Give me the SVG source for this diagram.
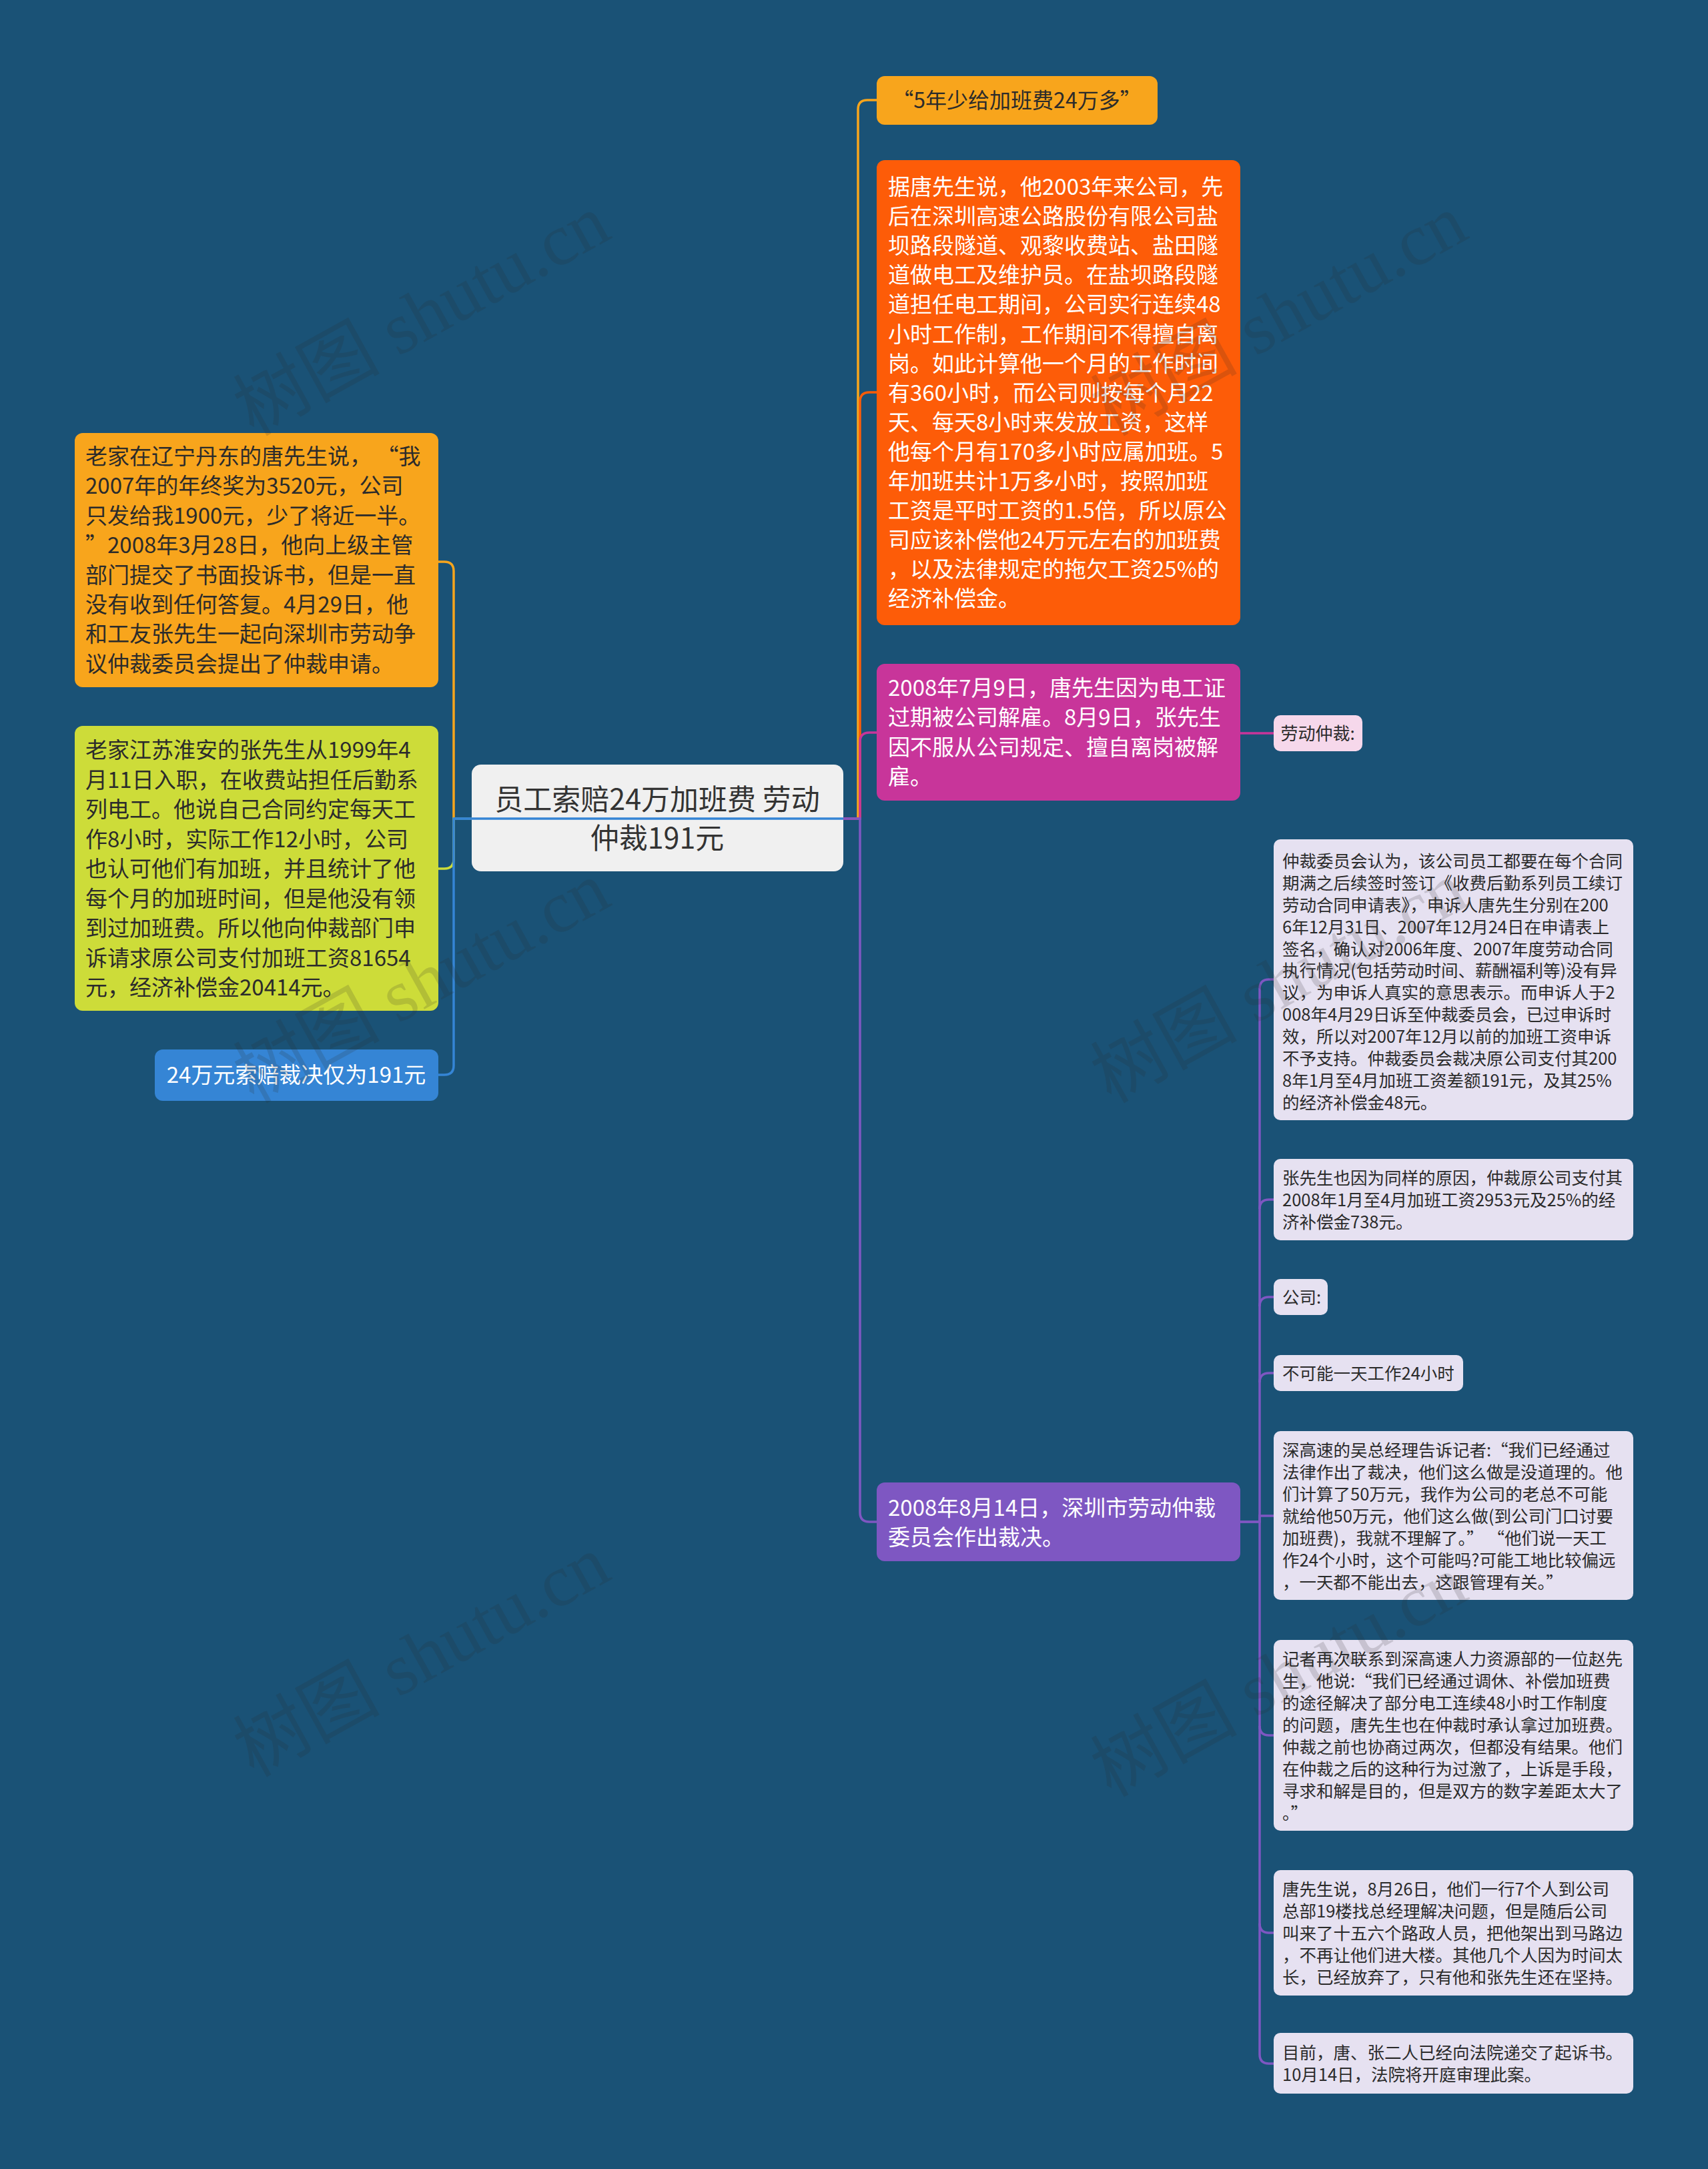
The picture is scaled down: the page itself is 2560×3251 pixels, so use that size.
<svg xmlns="http://www.w3.org/2000/svg" width="2560" height="3251" viewBox="0 0 2560 3251">
<style>
text{font-family:"Noto Sans CJK SC","Noto Sans",sans-serif}
.dk{fill:#2b2b2b}
.wt{fill:#ffffff}
.c{stroke-width:3.5;fill:none}
.lv{fill:#e6e1f1}
.s26{font-size:25.5px}
.s33{font-size:33px}
.s34{font-size:33px}
.wm{font-family:"Liberation Serif","Noto Sans CJK SC",serif;font-size:110px;fill:#2a2a2a;opacity:0.16}
</style>
<rect x="0" y="0" width="2560" height="3251" fill="#1a5276"/>

<g id="center">
<rect x="707" y="1146" width="557" height="160" rx="14" fill="#f0f0f0"/>
<text x="985" y="1214" text-anchor="middle" font-size="43" fill="#333">员工索赔24万加班费 劳动</text>
<text x="985" y="1272" text-anchor="middle" font-size="43" fill="#333">仲裁191元</text>
</g>

<g id="left-tang">
<rect x="112" y="649" width="545" height="381" rx="12" fill="#f8a51c"/>
<text class="dk s33" x="128">
<tspan x="128" y="696">老家在辽宁丹东的唐先生说， “我</tspan>
<tspan x="128" y="740">2007年的年终奖为3520元，公司</tspan>
<tspan x="128" y="785">只发给我1900元，少了将近一半。</tspan>
<tspan x="128" y="829">”2008年3月28日，他向上级主管</tspan>
<tspan x="128" y="874">部门提交了书面投诉书，但是一直</tspan>
<tspan x="128" y="918">没有收到任何答复。4月29日，他</tspan>
<tspan x="128" y="962">和工友张先生一起向深圳市劳动争</tspan>
<tspan x="128" y="1007">议仲裁委员会提出了仲裁申请。</tspan>
</text>
</g>

<g id="left-zhang">
<rect x="112" y="1088" width="545" height="427" rx="12" fill="#cddc39"/>
<text class="dk s33">
<tspan x="128" y="1136">老家江苏淮安的张先生从1999年4</tspan>
<tspan x="128" y="1181">月11日入职，在收费站担任后勤系</tspan>
<tspan x="128" y="1225">列电工。他说自己合同约定每天工</tspan>
<tspan x="128" y="1270">作8小时，实际工作12小时，公司</tspan>
<tspan x="128" y="1314">也认可他们有加班，并且统计了他</tspan>
<tspan x="128" y="1359">每个月的加班时间，但是他没有领</tspan>
<tspan x="128" y="1403">到过加班费。所以他向仲裁部门申</tspan>
<tspan x="128" y="1448">诉请求原公司支付加班工资81654</tspan>
<tspan x="128" y="1492">元，经济补偿金20414元。</tspan>
</text>
</g>

<g id="left-verdict">
<rect x="232" y="1573" width="425" height="77" rx="12" fill="#3585d5"/>
<text class="wt s33" x="444" y="1623" text-anchor="middle">24万元索赔裁决仅为191元</text>
</g>

<g id="r-title">
<rect x="1314" y="114" width="421" height="73" rx="12" fill="#f8a51c"/>
<text class="dk" x="1524" y="162" font-size="32" text-anchor="middle">“5年少给加班费24万多”</text>
</g>

<g id="r-story">
<rect x="1314" y="240" width="545" height="697" rx="12" fill="#fd5c08"/>
<text class="wt s33">
<tspan x="1331" y="292">据唐先生说，他2003年来公司，先</tspan>
<tspan x="1331" y="336">后在深圳高速公路股份有限公司盐</tspan>
<tspan x="1331" y="380">坝路段隧道、观黎收费站、盐田隧</tspan>
<tspan x="1331" y="424">道做电工及维护员。在盐坝路段隧</tspan>
<tspan x="1331" y="468">道担任电工期间，公司实行连续48</tspan>
<tspan x="1331" y="513">小时工作制，工作期间不得擅自离</tspan>
<tspan x="1331" y="557">岗。如此计算他一个月的工作时间</tspan>
<tspan x="1331" y="601">有360小时，而公司则按每个月22</tspan>
<tspan x="1331" y="645">天、每天8小时来发放工资，这样</tspan>
<tspan x="1331" y="689">他每个月有170多小时应属加班。5</tspan>
<tspan x="1331" y="733">年加班共计1万多小时，按照加班</tspan>
<tspan x="1331" y="777">工资是平时工资的1.5倍，所以原公</tspan>
<tspan x="1331" y="821">司应该补偿他24万元左右的加班费</tspan>
<tspan x="1331" y="865">，以及法律规定的拖欠工资25%的</tspan>
<tspan x="1331" y="909">经济补偿金。</tspan>
</text>
</g>

<g id="r-fired">
<rect x="1314" y="995" width="545" height="205" rx="12" fill="#c8359a"/>
<text class="wt s34">
<tspan x="1331" y="1043">2008年7月9日，唐先生因为电工证</tspan>
<tspan x="1331" y="1087">过期被公司解雇。8月9日，张先生</tspan>
<tspan x="1331" y="1132">因不服从公司规定、擅自离岗被解</tspan>
<tspan x="1331" y="1176">雇。</tspan>
</text>
</g>

<g id="r-arbitration">
<rect x="1909" y="1072" width="133" height="54" rx="10" fill="#f6d8eb"/>
<text class="dk" x="1975" y="1109" font-size="26" text-anchor="middle">劳动仲裁:</text>
</g>

<g id="r-ruling">
<rect x="1314" y="2222" width="545" height="118" rx="12" fill="#7e57c2"/>
<text class="wt s34">
<tspan x="1331" y="2272">2008年8月14日，深圳市劳动仲裁</tspan>
<tspan x="1331" y="2316">委员会作出裁决。</tspan>
</text>
</g>

<g id="c-committee">
<rect class="lv" x="1909" y="1258" width="539" height="421" rx="10"/>
<text class="dk s26">
<tspan x="1922" y="1300">仲裁委员会认为，该公司员工都要在每个合同</tspan>
<tspan x="1922" y="1333">期满之后续签时签订《收费后勤系列员工续订</tspan>
<tspan x="1922" y="1366">劳动合同申请表》，申诉人唐先生分别在200</tspan>
<tspan x="1922" y="1399">6年12月31日、2007年12月24日在申请表上</tspan>
<tspan x="1922" y="1432">签名，确认对2006年度、2007年度劳动合同</tspan>
<tspan x="1922" y="1464">执行情况(包括劳动时间、薪酬福利等)没有异</tspan>
<tspan x="1922" y="1497">议，为申诉人真实的意思表示。而申诉人于2</tspan>
<tspan x="1922" y="1530">008年4月29日诉至仲裁委员会，已过申诉时</tspan>
<tspan x="1922" y="1563">效，所以对2007年12月以前的加班工资申诉</tspan>
<tspan x="1922" y="1596">不予支持。仲裁委员会裁决原公司支付其200</tspan>
<tspan x="1922" y="1629">8年1月至4月加班工资差额191元，及其25%</tspan>
<tspan x="1922" y="1662">的经济补偿金48元。</tspan>
</text>
</g>

<g id="c-zhang">
<rect class="lv" x="1909" y="1737" width="539" height="122" rx="10"/>
<text class="dk s26">
<tspan x="1922" y="1775">张先生也因为同样的原因，仲裁原公司支付其</tspan>
<tspan x="1922" y="1808">2008年1月至4月加班工资2953元及25%的经</tspan>
<tspan x="1922" y="1841">济补偿金738元。</tspan>
</text>
</g>

<g id="c-company">
<rect class="lv" x="1909" y="1917" width="81" height="54" rx="10"/>
<text class="dk s26" x="1922" y="1954">公司:</text>
</g>

<g id="c-24h">
<rect class="lv" x="1909" y="2031" width="284" height="54" rx="10"/>
<text class="dk s26" x="1922" y="2068">不可能一天工作24小时</text>
</g>

<g id="c-wu">
<rect class="lv" x="1909" y="2145" width="539" height="253" rx="10"/>
<text class="dk s26">
<tspan x="1922" y="2183">深高速的吴总经理告诉记者:“我们已经通过</tspan>
<tspan x="1922" y="2216">法律作出了裁决，他们这么做是没道理的。他</tspan>
<tspan x="1922" y="2249">们计算了50万元，我作为公司的老总不可能</tspan>
<tspan x="1922" y="2282">就给他50万元，他们这么做(到公司门口讨要</tspan>
<tspan x="1922" y="2315">加班费)，我就不理解了。” “他们说一天工</tspan>
<tspan x="1922" y="2348">作24个小时，这个可能吗?可能工地比较偏远</tspan>
<tspan x="1922" y="2381">，一天都不能出去，这跟管理有关。”</tspan>
</text>
</g>

<g id="c-zhao">
<rect class="lv" x="1909" y="2458" width="539" height="286" rx="10"/>
<text class="dk s26">
<tspan x="1922" y="2496">记者再次联系到深高速人力资源部的一位赵先</tspan>
<tspan x="1922" y="2529">生，他说:“我们已经通过调休、补偿加班费</tspan>
<tspan x="1922" y="2562">的途径解决了部分电工连续48小时工作制度</tspan>
<tspan x="1922" y="2595">的问题，唐先生也在仲裁时承认拿过加班费。</tspan>
<tspan x="1922" y="2628">仲裁之前也协商过两次，但都没有结果。他们</tspan>
<tspan x="1922" y="2661">在仲裁之后的这种行为过激了，上诉是手段，</tspan>
<tspan x="1922" y="2694">寻求和解是目的，但是双方的数字差距太大了</tspan>
<tspan x="1922" y="2727">。”</tspan>
</text>
</g>

<g id="c-hq">
<rect class="lv" x="1909" y="2803" width="539" height="188" rx="10"/>
<text class="dk s26">
<tspan x="1922" y="2841">唐先生说，8月26日，他们一行7个人到公司</tspan>
<tspan x="1922" y="2874">总部19楼找总经理解决问题，但是随后公司</tspan>
<tspan x="1922" y="2907">叫来了十五六个路政人员，把他架出到马路边</tspan>
<tspan x="1922" y="2940">，不再让他们进大楼。其他几个人因为时间太</tspan>
<tspan x="1922" y="2973">长，已经放弃了，只有他和张先生还在坚持。</tspan>
</text>
</g>

<g id="c-court">
<rect class="lv" x="1909" y="3047" width="539" height="91" rx="10"/>
<text class="dk s26">
<tspan x="1922" y="3086">目前，唐、张二人已经向法院递交了起诉书。</tspan>
<tspan x="1922" y="3119">10月14日，法院将开庭审理此案。</tspan>
</text>
</g>

<g id="connectors">
<path class="c" stroke="#f8a51c" d="M707 1227 H680 V856 Q680 842 666 842 H657"/>
<path class="c" stroke="#cddc39" d="M707 1227 H680 V1288 Q680 1302 666 1302 H657"/>
<path class="c" stroke="#3585d5" d="M707 1227 H680 V1597 Q680 1611 666 1611 H657"/>
<path class="c" stroke="#3585d5" d="M680 1227 H1264"/>
<path class="c" stroke="#f8a51c" d="M1264 1227 H1286 V164 Q1286 150 1300 150 H1314"/>
<path class="c" stroke="#fd5c08" d="M1264 1227 H1289 V602 Q1289 588 1303 588 H1314"/>
<path class="c" stroke="#c8359a" d="M1264 1227 H1289 V1112 Q1289 1098 1303 1098 H1314"/>
<path class="c" stroke="#7e57c2" d="M1264 1227 H1289 V2267 Q1289 2281 1303 2281 H1314"/>
<path class="c" stroke="#c8359a" d="M1859 1099 H1909"/>
<path class="c" stroke="#7e57c2" d="M1859 2281 H1888 V1482 Q1888 1468 1902 1468 H1909"/>
<path class="c" stroke="#7e57c2" d="M1888 1812 Q1888 1798 1902 1798 H1909"/>
<path class="c" stroke="#7e57c2" d="M1888 1958 Q1888 1944 1902 1944 H1909"/>
<path class="c" stroke="#7e57c2" d="M1888 2072 Q1888 2058 1902 2058 H1909"/>
<path class="c" stroke="#7e57c2" d="M1888 2281 V2272 H1909"/>
<path class="c" stroke="#7e57c2" d="M1859 2281 H1888 V3079 Q1888 3093 1902 3093 H1909"/>
<path class="c" stroke="#7e57c2" d="M1888 2587 Q1888 2601 1902 2601 H1909"/>
<path class="c" stroke="#7e57c2" d="M1888 2883 Q1888 2897 1902 2897 H1909"/>
</g>

<g id="watermarks">
<text class="wm" transform="translate(650 505) rotate(-29)" text-anchor="middle">树图 shutu.cn</text>
<text class="wm" transform="translate(1935 505) rotate(-29)" text-anchor="middle">树图 shutu.cn</text>
<text class="wm" transform="translate(650 1505) rotate(-29)" text-anchor="middle">树图 shutu.cn</text>
<text class="wm" transform="translate(1935 1505) rotate(-29)" text-anchor="middle">树图 shutu.cn</text>
<text class="wm" transform="translate(650 2515) rotate(-29)" text-anchor="middle">树图 shutu.cn</text>
<text class="wm" transform="translate(1935 2545) rotate(-29)" text-anchor="middle">树图 shutu.cn</text>
</g>
</svg>
